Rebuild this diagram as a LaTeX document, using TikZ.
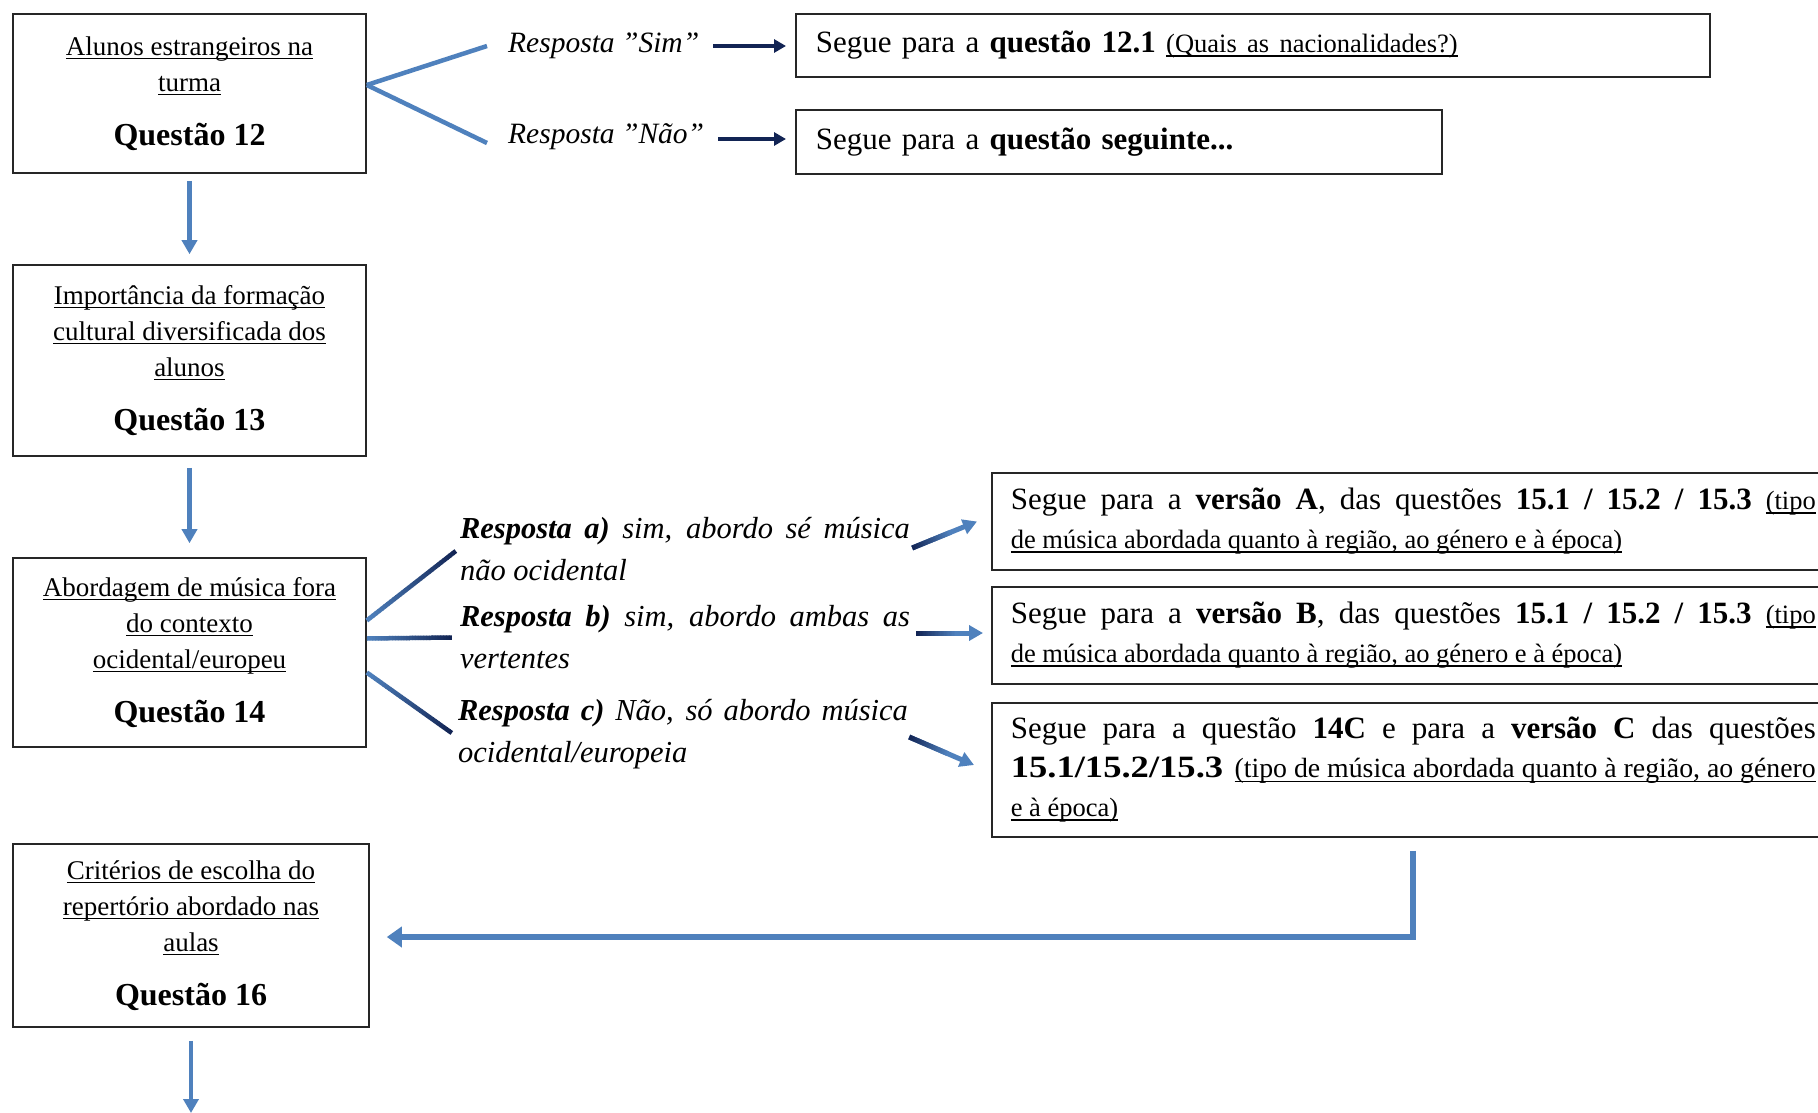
\documentclass[tikz,border=0pt]{standalone}
\usepackage{fontspec}
\setmainfont{Liberation Serif}
\usetikzlibrary{arrows.meta,calc}
\definecolor{myblue}{RGB}{79,129,189}
\definecolor{mynavy}{RGB}{18,36,84}
\newcommand\myul[1]{\leavevmode\setbox0\hbox{#1}\rlap{\rule[-0.14em]{\wd0}{1.3pt}}\box0}
\newcommand{\qfont}{\fontsize{32}{36}\selectfont\bfseries}
\newcommand{\ufont}{\fontsize{26.5}{39}\selectfont}
\newcommand\gradline[5]{%
  \foreach \i in {0,...,29}{%
    \pgfmathsetmacro\pa{\i/30}%
    \pgfmathsetmacro\pb{min((\i+1.2)/30,1)}%
    \pgfmathtruncatemacro\mx{100*\i/29}%
    \draw[line width=#5, color=#4!\mx!#3] ($(#1)!\pa!(#2)$) -- ($(#1)!\pb!(#2)$);
  }}
\begin{document}
\begin{tikzpicture}[x=1pt,y=-1pt,
  qbox/.style={draw=black!85, line width=1.6pt, minimum width=353pt, align=center, inner sep=0pt, font=\fontsize{27}{36}\selectfont},
  rbox/.style={draw=black!85, line width=1.6pt, anchor=west, inner ysep=0pt, inner xsep=20pt, font=\fontsize{31}{39}\selectfont},
  resp/.style={text width=450pt, align=justify, inner sep=0pt, font=\fontsize{30.5}{42}\selectfont\itshape},
  lab/.style={anchor=west, inner sep=0pt, font=\fontsize{29.5}{36}\selectfont\itshape},
  bluearrow/.style={draw=myblue, line width=4.5pt, -{Triangle[length=14pt,width=15pt]}},
  navyarrow/.style={draw=mynavy, line width=4.5pt, -{Triangle[length=12pt,width=13pt]}},
  bluefork/.style={draw=myblue, line width=4.5pt}]
\useasboundingbox (0,0) rectangle (1818,1113);
\fill[white] (0,0) rectangle (1818,1113);

% left column
\node[qbox, minimum height=159pt] (q12) at (189.5,93.5)
  {\myul{Alunos estrangeiros na}\\\myul{turma}\\[18pt]{\qfont Questão 12}};
\node[qbox, minimum height=191pt] (q13) at (189.5,360.5)
  {\myul{Importância da formação}\\\myul{cultural diversificada dos}\\\myul{alunos}\\[18pt]{\qfont Questão 13}};
\node[qbox, minimum height=189pt] (q14) at (189.5,652.5)
  {\myul{Abordagem de música fora}\\\myul{do contexto}\\\myul{ocidental/europeu}\\[18pt]{\qfont Questão 14}};
\node[qbox, minimum height=183pt, minimum width=356pt] (q16) at (191,935.5)
  {\myul{Critérios de escolha do}\\\myul{repertório abordado nas}\\\myul{aulas}\\[18pt]{\qfont Questão 16}};

% question 12 branches
\node[lab] (sim) at (508,46) {Resposta ”Sim”};
\node[lab] (nao) at (508,137) {Resposta ”Não”};
\node[rbox, minimum height=63pt, text width=874pt, align=left] (r121) at (795,45.5)
  {Segue para a \textbf{questão 12.1} {\ufont\myul{(Quais as nacionalidades?)}}};
\node[rbox, minimum height=64pt, text width=606pt, align=left] (rseg) at (795,142)
  {Segue para a \textbf{questão seguinte...}};

\draw[bluefork] ([yshift=8.5pt]q12.east) -- ([xshift=-21pt]sim.west);
\draw[bluefork] ([yshift=8.5pt]q12.east) -- ([xshift=-21pt,yshift=-6pt]nao.west);
\draw[navyarrow] ([xshift=14pt]sim.east) -- ([xshift=-9pt]sim.east -| r121.west);
\draw[navyarrow] ([xshift=14pt,yshift=-2pt]nao.east) -- ([xshift=-9pt,yshift=-2pt]nao.east -| rseg.west);

% question 14 branches
\node[resp] (respa) at (685,549)
  {\textbf{Resposta a)} sim, abordo sé música\linebreak não ocidental};
\node[resp] (respb) at (685,637.5)
  {\textbf{Resposta b)} sim, abordo ambas as\linebreak vertentes};
\node[resp] (respc) at (683,734)
  {\textbf{Resposta c)} Não, só abordo música\linebreak ocidental/europeia};

\node[rbox, minimum height=97pt, text width=805pt, inner xsep=19pt, align=justify] (rA) at (991,521.5)
  {Segue para a \textbf{versão A}, das questões \textbf{15.1 / 15.2 / 15.3} {\ufont\myul{(tipo}}\linebreak{\ufont\myul{de música abordada quanto à região, ao género e à época)}}};
\node[rbox, minimum height=97pt, text width=805pt, inner xsep=19pt, align=justify] (rB) at (991,635.5)
  {Segue para a \textbf{versão B}, das questões \textbf{15.1 / 15.2 / 15.3} {\ufont\myul{(tipo}}\linebreak{\ufont\myul{de música abordada quanto à região, ao género e à época)}}};
\node[rbox, minimum height=134pt, text width=805pt, inner xsep=19pt, align=justify] (rC) at (991,770)
  {Segue para a questão \textbf{14C} e para a \textbf{versão C} das questões\linebreak \scalebox{1.18}[1]{\textbf{15.1/15.2/15.3}} {\fontsize{27.8}{39}\selectfont\myul{(tipo de música abordada quanto à região, ao género}}\linebreak{\ufont\myul{e à época)}}};

% forks from Q14 (gradient lines)
\coordinate (fa1) at ([yshift=32pt]q14.east);
\coordinate (fa2) at ([xshift=-4pt,yshift=-2pt]respa.west);
\coordinate (fb1) at ([yshift=14pt]q14.east);
\coordinate (fb2) at ([xshift=-8pt]respb.west);
\coordinate (fc1) at ([yshift=-20pt]q14.east);
\coordinate (fc2) at ([xshift=-6pt,yshift=1pt]respc.west);
\gradline{fa1}{fa2}{myblue}{mynavy}{4.5pt}
\gradline{fb1}{fb2}{myblue}{mynavy}{4.5pt}
\gradline{fc1}{fc2}{myblue}{mynavy}{4.5pt}

% gradient arrows to boxes A, B, C
\coordinate (as) at ([xshift=2pt,yshift=1pt]respa.east);
\coordinate (ae) at ([xshift=-14pt]rA.west);
\coordinate (bs) at ([xshift=6pt,yshift=4.5pt]respb.east);
\coordinate (be) at ([xshift=-8pt,yshift=2.5pt]rB.west);
\coordinate (cs) at ([xshift=1pt,yshift=-3pt]respc.east);
\coordinate (ce) at ([xshift=-17pt,yshift=5pt]rC.west);
\draw[bluearrow, line width=5pt] (as) -- (ae);
\draw[bluearrow, line width=5pt] (bs) -- (be);
\draw[bluearrow, line width=5pt] (cs) -- (ce);
\coordinate (am) at ($(as)!0.6!(ae)$);
\coordinate (bm) at ($(bs)!0.6!(be)$);
\coordinate (cm) at ($(cs)!0.6!(ce)$);
\gradline{as}{am}{mynavy}{myblue}{5pt}
\gradline{bs}{bm}{mynavy}{myblue}{5pt}
\gradline{cs}{cm}{mynavy}{myblue}{5pt}

% vertical flow
\draw[bluearrow, shorten <=7pt, shorten >=10pt] (q12) -- (q13);
\draw[bluearrow, shorten <=11pt, shorten >=14pt] (q13) -- (q14);
\draw[draw=myblue, line width=6.5pt, -{Triangle[length=15pt,width=20pt]}]
  ([xshift=422pt,yshift=-13pt]rC.south west) |- ([xshift=17pt,yshift=-1.5pt]q16.east);
\coordinate (bottom) at (191,1113);
\draw[bluearrow, shorten <=13pt] (q16.south) -- (bottom);
\end{tikzpicture}
\end{document}
